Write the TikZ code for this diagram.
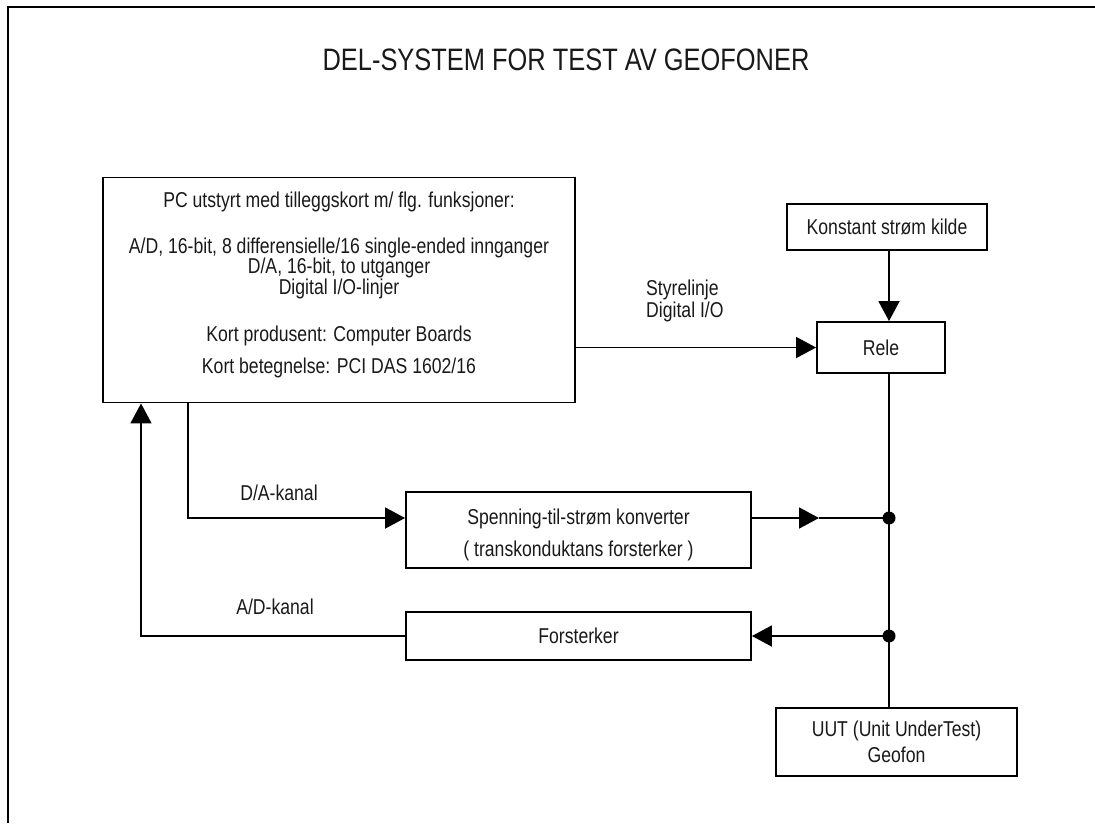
\documentclass[tikz,border=0pt]{standalone}
\usepackage{fontspec}
\setmainfont[FakeStretch=0.82]{Liberation Sans}
\usetikzlibrary{arrows.meta}
\newcommand\bodyfnt{\fontsize{21.5}{20.5}\selectfont\lineskiplimit=-100pt\relax}
\newcommand\titlefnt{\fontsize{31}{36}\selectfont}
\begin{document}
\begin{tikzpicture}[x=1pt,y=-1pt,
  every node/.style={font=\bodyfnt, text=black!90},
  box/.style={draw, line width=1.9pt, inner sep=0pt, rectangle},
  ml/.style={align=center, inner sep=0pt, anchor=north},
  lbl/.style={inner sep=0pt},
  arr/.style={-{Triangle[length=20pt,width=21pt]}},
  wire/.style={line width=1.9pt}]
\path[use as bounding box] (0,0) rectangle (1095,823);
\draw[line width=2.5pt] (8,823) -- (8,7) -- (1095,7);
\node[lbl, anchor=base, font=\titlefnt] (title) at (566,70) {DEL-SYSTEM FOR TEST AV GEOFONER};

% boxes
\node[box, minimum width=472pt, minimum height=225pt] (pc) at (339,290) {};
\node[ml] (pctext) at (339,191.3) {PC utstyrt med tilleggskort m/ flg. funksjoner:\\[25.5pt]
A/D, 16-bit, 8 differensielle/16 single-ended innganger\\
D/A, 16-bit, to utganger\\
Digital I/O-linjer\\[26.5pt]
Kort produsent: Computer Boards\\[11.5pt]
Kort betegnelse: PCI DAS 1602/16};

\node[box, minimum width=200pt, minimum height=46pt] (kons) at (887,227) {Konstant strøm kilde};
\node[box, minimum width=128pt, minimum height=51pt] (rele) at (881,347.5) {Rele};
\node[box, minimum width=345pt, minimum height=76pt] (spen) at (578.5,530) {};
\node[ml] (spentext) at (578.5,508.8) {Spenning-til-strøm konverter\\[11.5pt]( transkonduktans forsterker )};
\node[box, minimum width=345pt, minimum height=48pt] (forst) at (578.5,636) {Forsterker};
\node[box, minimum width=241pt, minimum height=68pt] (uut) at (896.5,742) {};
\node[ml] (uuttext) at (896.5,720.8) {UUT (Unit UnderTest)\\[5.5pt]Geofon};

% labels
\node[ml, anchor=north west, align=left] (styr) at (646,279.8) {Styrelinje\\[1.5pt]Digital I/O};
\node[lbl] (dalbl) at (279,493) {D/A-kanal};
\node[lbl] (adlbl) at (275,607) {A/D-kanal};

% coordinates
\coordinate (bus) at (889,0);
\coordinate (j1) at (889,518);
\coordinate (j2) at (889,636);
\coordinate (mid) at (819,518);
\coordinate (da) at (188,0);
\coordinate (ad) at (141,0);

% connectors
\draw[wire, arr] (kons.south -| bus) -- (rele.north -| bus);
\draw[wire] (rele.south -| bus) -- (uut.north -| bus);
\draw[wire, arr] (pc.east |- rele.west) -- (rele.west);
\draw[wire, arr] (pc.south -| da) |- (spen.west |- j1);
\draw[wire, arr] (spen.east |- j1) -- (mid);
\draw[wire] (mid) -- (j1);
\draw[wire, arr] (j2) -- (forst.east);
\draw[wire, arr] (forst.west) -| (pc.south -| ad);
\fill (j1) circle[radius=6.5pt];
\fill (j2) circle[radius=6.5pt];
\end{tikzpicture}
\end{document}
